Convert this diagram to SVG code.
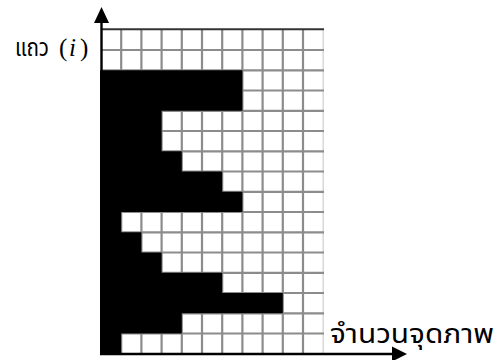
<svg xmlns="http://www.w3.org/2000/svg" width="497" height="360" viewBox="0 0 497 360">
<style>
.g{stroke:#8c8c8c;stroke-width:2.2;fill:none}
.ax{stroke:#000;stroke-width:2.4;fill:none}
.th{font-family:"Noto Sans Thai","Noto Sans","DejaVu Sans",sans-serif;fill:#000}
.sr{font-family:"Liberation Serif",serif}
</style>
<rect width="497" height="360" fill="#fff"/>
<g id="grid">
<path class="g" d="M121.2 29.8V353.8M141.4 29.8V353.8M161.6 29.8V353.8M181.8 29.8V353.8M202 29.8V353.8M222.2 29.8V353.8M242.4 29.8V353.8M262.6 29.8V353.8M282.8 29.8V353.8M303 29.8V353.8"/>
<path d="M323.2 29.8V353.8" stroke="#d8d8d8" stroke-width="1.5"/>
<path class="g" d="M101 50H324M101 70.3H324M101 90.5H324M101 110.8H324M101 131H324M101 151.3H324M101 171.5H324M101 191.8H324M101 212H324M101 232.3H324M101 252.5H324M101 272.8H324M101 293H324M101 313.3H324M101 333.5H324"/>
<path d="M101 29.3H324" stroke="#333" stroke-width="2"/>
</g>
<g id="black">
<path fill="#000" d="M100 70.3H242.4V110.8H161.6V151.3H181.8V171.5H222.2V191.8H242.4V212H121.2V232.3H141.4V252.5H161.6V272.8H222.2V293H282.8V313.3H181.8V333.5H121.2V353.8H100Z"/>
</g>
<g id="axes">
<path class="ax" d="M101.5 354V20"/>
<polygon points="101.5,7 94,23 109,23" fill="#000"/>
<path class="ax" d="M100 354H394"/>
<polygon points="407,354 392,346.5 392,361.5" fill="#000"/>
</g>
<g id="labels">
<text class="th" y="56" font-size="24"><tspan x="15" textLength="34" lengthAdjust="spacingAndGlyphs">แถว</tspan><tspan class="sr" x="59" font-size="25">(</tspan><tspan class="sr" x="69" font-size="25" font-style="italic">i</tspan><tspan class="sr" x="80" font-size="25">)</tspan></text>
<text class="th" x="330" y="343" font-size="27" textLength="164" lengthAdjust="spacingAndGlyphs">จำนวนจุดภาพ</text>
</g>
</svg>
